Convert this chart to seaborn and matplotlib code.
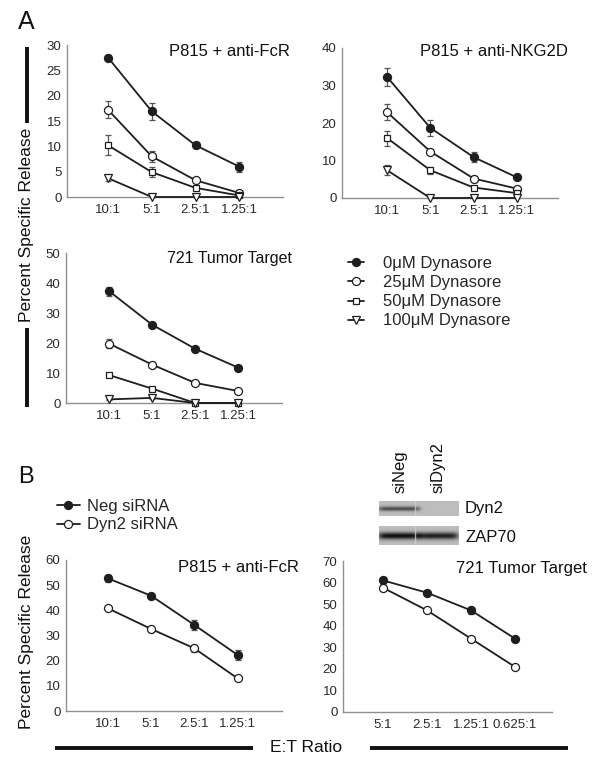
import numpy as np
import pandas as pd
import matplotlib
matplotlib.use("Agg")
import matplotlib.pyplot as plt
from matplotlib.lines import Line2D
import seaborn as sns

# ---------------- data ----------------
ratios_a = ["10:1", "5:1", "2.5:1", "1.25:1"]
ratios_b2 = ["5:1", "2.5:1", "1.25:1", "0.625:1"]
dyn_labels = ["0\u03bcM Dynasore", "25\u03bcM Dynasore", "50\u03bcM Dynasore", "100\u03bcM Dynasore"]
sirna_labels = ["Neg siRNA", "Dyn2 siRNA"]

fcr_0 = [27.5, 16.9, 10.2, 6.0]
fcr_0_err = [0.5, 1.7, 0.5, 1.0]
fcr_25 = [17.2, 8.0, 3.3, 0.8]
fcr_25_err = [1.7, 1.0, 0.3, 0.3]
fcr_50 = [10.2, 4.9, 1.8, 0.3]
fcr_50_err = [2.0, 1.0, 0.4, 0.2]
fcr_100 = [3.7, 0.0, 0.0, 0.0]
fcr_100_err = [0.5, 0.0, 0.0, 0.0]

nkg_0 = [32.3, 18.7, 10.9, 5.5]
nkg_0_err = [2.5, 2.2, 1.3, 0.3]
nkg_25 = [22.9, 12.4, 5.2, 2.5]
nkg_25_err = [2.2, 0.4, 0.8, 0.3]
nkg_50 = [16.0, 7.4, 2.8, 1.3]
nkg_50_err = [2.0, 1.0, 0.3, 0.2]
nkg_100 = [7.4, 0.0, 0.0, 0.0]
nkg_100_err = [1.3, 0.0, 0.0, 0.0]

t721_0 = [37.3, 26.1, 18.1, 11.8]
t721_0_err = [1.5, 0.5, 0.5, 0.5]
t721_25 = [19.8, 12.8, 6.7, 4.0]
t721_25_err = [1.5, 0.4, 0.4, 0.4]
t721_50 = [9.3, 4.8, 0.0, 0.0]
t721_50_err = [0.5, 0.4, 0.0, 0.0]
t721_100 = [1.2, 1.7, 0.0, 0.0]
t721_100_err = [0.3, 0.3, 0.0, 0.0]

b_fcr_neg = [52.7, 45.8, 34.2, 22.3]
b_fcr_neg_err = [1.5, 0.8, 2.0, 2.0]
b_fcr_dyn2 = [40.8, 32.6, 24.9, 13.0]
b_fcr_dyn2_err = [0.6, 1.3, 1.5, 0.5]

b_721_neg = [61.0, 55.3, 47.1, 34.0]
b_721_neg_err = [1.5, 0.5, 1.5, 0.5]
b_721_dyn2 = [57.6, 47.1, 34.0, 20.9]
b_721_dyn2_err = [1.5, 0.5, 0.5, 0.5]

# ---------------- style ----------------
sns.set_style("white")
plt.rcParams["font.family"] = ["Liberation Sans", "DejaVu Sans"]

W, H = 600, 771
fig = plt.figure(figsize=(W / 100, H / 100), dpi=100)

def fx(px):
    return px / W

def fy(py):
    return 1 - py / H

LINE = "#1e1e1e"
SPINE = "#8f8f8f"
TXT = "#2a2a2a"

styles = [
    dict(marker="o", mfc=LINE, ms=5.8),
    dict(marker="o", mfc="white", ms=5.8),
    dict(marker="s", mfc="white", ms=5.0),
    dict(marker="v", mfc="white", ms=5.6),
]

def make_ax(left, right, top, bottom, xlim, ylim, ystep, xlabels):
    ax = fig.add_axes([fx(left), fy(bottom), (right - left) / W, (bottom - top) / H])
    ax.set_xlim(*xlim)
    ax.set_ylim(0, ylim)
    ax.set_yticks(np.arange(0, ylim + 0.1, ystep))
    ax.set_xticks(range(len(xlabels)))
    ax.set_xticklabels(xlabels)
    for s in ["top", "right"]:
        ax.spines[s].set_visible(False)
    for s in ["left", "bottom"]:
        ax.spines[s].set_color(SPINE)
        ax.spines[s].set_linewidth(1.0)
    ax.tick_params(axis="both", colors=SPINE, labelcolor=TXT, labelsize=9.5,
                   length=2.5, width=0.8, pad=1.5, direction="out")
    ax.tick_params(axis="x", length=0, pad=5)
    ax.set_xlabel("")
    ax.set_ylabel("")
    return ax

def series(ax, vals, errs, st, label):
    pos = list(range(len(vals)))
    ax.errorbar(pos, vals, yerr=errs, fmt="none", ecolor="#555555",
                elinewidth=0.9, capsize=2, capthick=0.9, zorder=2, clip_on=False)
    sns.lineplot(x=pos, y=vals, ax=ax, color=LINE, linewidth=1.3,
                 marker=st["marker"], markersize=st["ms"],
                 markerfacecolor=st["mfc"], markeredgecolor=LINE,
                 markeredgewidth=0.9, clip_on=False, zorder=3, legend=False)
    line = ax.lines[-1]
    line.set_label(label)
    return line

# ---------------- Panel A ----------------
axA1 = make_ax(67, 283, 45, 197, (-0.94, 4.0), 30, 5, ratios_a)
for v, e, st, lab in zip([fcr_0, fcr_25, fcr_50, fcr_100],
                         [fcr_0_err, fcr_25_err, fcr_50_err, fcr_100_err], styles, dyn_labels):
    series(axA1, v, e, st, lab)

axA2 = make_ax(342, 558, 48, 198, (-1.04, 3.95), 40, 10, ratios_a)
for v, e, st, lab in zip([nkg_0, nkg_25, nkg_50, nkg_100],
                         [nkg_0_err, nkg_25_err, nkg_50_err, nkg_100_err], styles, dyn_labels):
    series(axA2, v, e, st, lab)

axA3 = make_ax(66, 282, 253, 403, (-1.0, 4.02), 50, 10, ratios_a)
handlesA = []
for v, e, st, lab in zip([t721_0, t721_25, t721_50, t721_100],
                         [t721_0_err, t721_25_err, t721_50_err, t721_100_err], styles, dyn_labels):
    handlesA.append(series(axA3, v, e, st, lab))

# ---------------- Panel B ----------------
axB1 = make_ax(66, 282, 560, 711, (-0.97, 4.03), 60, 10, ratios_a)
handlesB = []
for v, e, st, lab in zip([b_fcr_neg, b_fcr_dyn2], [b_fcr_neg_err, b_fcr_dyn2_err],
                         styles[:2], sirna_labels):
    handlesB.append(series(axB1, v, e, st, lab))

axB2 = make_ax(343, 552, 561, 712, (-0.91, 3.84), 70, 10, ratios_b2)
for v, e, st, lab in zip([b_721_neg, b_721_dyn2], [b_721_neg_err, b_721_dyn2_err],
                         styles[:2], sirna_labels):
    series(axB2, v, e, st, lab)

# ---------------- titles ----------------
def ptext(x, y, s, **kw):
    kw.setdefault("color", "#111111")
    fig.text(fx(x), fy(y), s, **kw)

ptext(290, 52, "P815 + anti-FcR", ha="right", va="center", fontsize=12)
ptext(568, 51, "P815 + anti-NKG2D", ha="right", va="center", fontsize=12)
ptext(292, 259, "721 Tumor Target", ha="right", va="center", fontsize=11.5)
ptext(299, 567, "P815 + anti-FcR", ha="right", va="center", fontsize=12)
ptext(587, 569, "721 Tumor Target", ha="right", va="center", fontsize=12)

ptext(26, 22, "A", ha="center", va="center", fontsize=18)
ptext(26, 477, "B", ha="center", va="center", fontsize=17)

# y labels and bars
ptext(27, 225, "Percent Specific Release", ha="center", va="center", rotation=90, fontsize=12.5)
ptext(27, 632, "Percent Specific Release", ha="center", va="center", rotation=90, fontsize=12.5)
for (x0, y0, x1, y1) in [(27, 47, 27, 123), (27, 328, 27, 407), (55, 748, 253, 748), (370, 748, 568, 748)]:
    fig.add_artist(Line2D([fx(x0), fx(x1)], [fy(y0), fy(y1)], color="#111111", lw=2.8,
                          solid_capstyle="butt", transform=fig.transFigure))
ptext(306, 748, "E:T Ratio", ha="center", va="center", fontsize=12.5)

# ---------------- legends ----------------
fig.legend(handles=handlesA, labels=dyn_labels, loc="upper left",
           bbox_to_anchor=(fx(348), fy(256)), frameon=False, fontsize=12,
           handlelength=0.95, handletextpad=1.15, labelspacing=0.25, borderpad=0,
           borderaxespad=0)
fig.legend(handles=handlesB, labels=sirna_labels, loc="upper left",
           bbox_to_anchor=(fx(57), fy(499)), frameon=False, fontsize=12,
           handlelength=1.35, handletextpad=0.45, labelspacing=0.2, borderpad=0,
           borderaxespad=0)

# ---------------- western blot (decorative) ----------------
def blot_ax(top, bottom, left_int, right_int, width_rows):
    ax = fig.add_axes([fx(379), fy(bottom), (458 - 379) / W, (bottom - top) / H])
    h, w = 30, 160
    r = np.arange(h)[:, None]
    c = np.arange(w)[None, :]
    prof = np.exp(-((r - h / 2) / width_rows) ** 2)
    lane_l = np.exp(-((c - 40) / 42.0) ** 8)
    lane_r = np.exp(-((c - 118) / 40.0) ** 8)
    img = 0.74 - prof * (left_int * lane_l + right_int * lane_r)
    img[:, 72:74] = 0.82
    ax.imshow(img, cmap="gray", vmin=0, vmax=1, aspect="auto", interpolation="bilinear")
    ax.set_xticks([])
    ax.set_yticks([])
    for s in ax.spines.values():
        s.set_visible(False)
    return ax

blot_ax(501, 516, 0.45, 0.0, 4.5)
blot_ax(526, 545, 0.68, 0.62, 5.5)
ptext(465, 509, "Dyn2", ha="left", va="center", fontsize=12)
ptext(465, 537, "ZAP70", ha="left", va="center", fontsize=12)
ptext(400, 493, "siNeg", ha="center", va="bottom", rotation=90, fontsize=12)
ptext(438, 493, "siDyn2", ha="center", va="bottom", rotation=90, fontsize=12)

fig.savefig("out.png", dpi=100)
